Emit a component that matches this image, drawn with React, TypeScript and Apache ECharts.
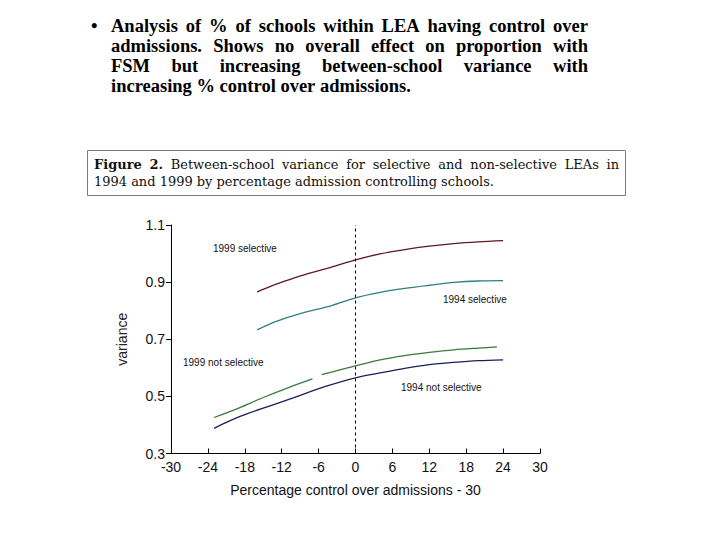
import React, { useEffect, useRef } from "react";
import * as echarts from "echarts";

// ---- data ----
const sel1999X = [-16, -13, -11, -8, -4, 0, 4, 8, 12, 16, 20, 24];
const sel1999Y = [0.866, 0.892, 0.907, 0.928, 0.952, 0.978, 0.999, 1.014, 1.026, 1.035, 1.041, 1.045];

const sel1994X = [-16, -13, -9, -4, 0, 4, 8, 12, 16, 20, 24];
const sel1994Y = [0.733, 0.762, 0.79, 0.817, 0.845, 0.864, 0.878, 0.889, 0.899, 0.904, 0.905];

const non1999X = [-23, -19, -15, -11, -7, -6.2, -5.5, -3, 0, 4, 8, 12, 16, 20, 23];
const non1999Y: (number | string)[] = [0.426, 0.459, 0.496, 0.53, 0.561, "-", 0.576, 0.59, 0.607, 0.628, 0.643, 0.654, 0.663, 0.669, 0.673];

const non1994X = [-23, -21, -18, -14, -10, -5, 0, 4, 8, 12, 16, 20, 24];
const non1994Y = [0.388, 0.409, 0.436, 0.466, 0.496, 0.534, 0.565, 0.582, 0.598, 0.611, 0.619, 0.625, 0.628];

const seriesNames = ["1999 selective", "1994 selective", "1999 not selective", "1994 not selective"];
const seriesColors = ["#5e1a1e", "#2e7f80", "#3a7a3c", "#1e1e5a"];

const yTicks = [0.3, 0.5, 0.7, 0.9, 1.1];
const xTicks = [-30, -24, -18, -12, -6, 0, 6, 12, 18, 24, 30];

const bulletLines = [
  "Analysis of % of schools within LEA having control over",
  "admissions. Shows no overall effect on proportion with",
  "FSM but increasing between-school variance with",
  "increasing % control over admissions.",
];
const captionBold = "Figure 2.";
const captionLine1 = "Between-school variance for selective and non-selective LEAs in";
const captionLine2 = "1994 and 1999 by percentage admission controlling schools.";

const xTitle = "Percentage control over admissions - 30";
const yTitle = "variance";

function zip(xs: number[], ys: (number | string)[]) {
  return xs.map((x, i) => [x, ys[i]]);
}

let ctx: CanvasRenderingContext2D | null = null;
function measure(text: string, font: string): number {
  if (!ctx) ctx = document.createElement("canvas").getContext("2d");
  ctx!.font = font;
  return ctx!.measureText(text).width;
}

type Word = { t: string; weight: string };

function lineElements(words: Word[], size: number, family: string, x0: number, x1: number | null, baseline: number, fill: string) {
  const fonts = words.map((w) => `${w.weight} ${size}px ${family}`);
  const widths = words.map((w, i) => measure(w.t, fonts[i]));
  const space = measure(" ", `normal ${size}px ${family}`);
  let gap = space;
  if (x1 !== null && words.length > 1) {
    const total = widths.reduce((a, b) => a + b, 0);
    gap = (x1 - x0 - total) / (words.length - 1);
  }
  const els: any[] = [];
  let x = x0;
  words.forEach((w, i) => {
    els.push({
      type: "text",
      x,
      y: baseline - size * 0.34,
      silent: true,
      style: {
        text: w.t,
        font: fonts[i],
        fill,
        align: "left",
        verticalAlign: "middle",
      },
    });
    x += widths[i] + gap;
  });
  return els;
}

export default function App() {
  const ref = useRef<HTMLDivElement>(null);
  useEffect(() => {
    if (!ref.current) return;
    const chart = echarts.init(ref.current, undefined, { renderer: "svg" });

    const serif = "'Liberation Serif'";
    const capFamily = "'DejaVu Serif'";
    const bSize = 18.5;
    const b0 = 32.5;
    const graphics: any[] = [];

    // bullet
    graphics.push({
      type: "text",
      x: 91,
      y: b0 - bSize * 0.34,
      silent: true,
      style: { text: "•", font: `bold ${bSize}px ${serif}`, fill: "#000", verticalAlign: "middle" },
    });
    bulletLines.forEach((ln, i) => {
      const words = ln.split(" ").map((t) => ({ t, weight: "bold" }));
      const justify = i < bulletLines.length - 1 ? 588 : null;
      graphics.push(...lineElements(words, bSize, serif, 111, justify, b0 + i * 20, "#000"));
    });

    // caption box
    graphics.push({
      type: "rect",
      silent: true,
      shape: { x: 87.5, y: 150.5, width: 538, height: 45 },
      style: { fill: "none", stroke: "#7a7a7a", lineWidth: 1 },
    });
    // fit caption font size so line 2 spans ~400px
    const w2 = measure(captionLine2, `normal 13px ${capFamily}`);
    const cSize = (13 * 400) / w2;
    const cap1: Word[] = [
      ...captionBold.split(" ").map((t) => ({ t, weight: "bold" })),
      ...captionLine1.split(" ").map((t) => ({ t, weight: "normal" })),
    ];
    graphics.push(...lineElements(cap1, cSize, capFamily, 94, 619, 168.5, "#111"));
    const cap2: Word[] = captionLine2.split(" ").map((t) => ({ t, weight: "normal" }));
    graphics.push(...lineElements(cap2, cSize, capFamily, 94, null, 186, "#111"));

    // curve labels
    const labelPos = [
      [213, 248],
      [443, 299],
      [183, 362],
      [401, 387],
    ];
    seriesNames.forEach((n, i) => {
      graphics.push({
        type: "text",
        x: labelPos[i][0],
        y: labelPos[i][1],
        silent: true,
        style: {
          text: n,
          fontSize: 10,
          fontFamily: "'Liberation Sans'",
          fill: "#111",
          align: "left",
          verticalAlign: "middle",
        },
      });
    });

    const datasets = [zip(sel1999X, sel1999Y), zip(sel1994X, sel1994Y), zip(non1999X, non1999Y), zip(non1994X, non1994Y)];

    const option: any = {
      animation: false,
      backgroundColor: "#fff",
      grid: { left: 171, top: 225, width: 369, height: 228.5, containLabel: false },
      xAxis: {
        type: "value",
        min: -30,
        max: 30,
        interval: 6,
        name: xTitle,
        nameLocation: "middle",
        nameGap: 29,
        nameTextStyle: { fontSize: 14, fontFamily: "'Liberation Sans'", color: "#111", verticalAlign: "top" },
        axisLine: { onZero: false, lineStyle: { color: "#000", width: 1 } },
        axisTick: { inside: true, length: 5, lineStyle: { color: "#000" } },
        axisLabel: {
          margin: 6,
          fontSize: 14,
          fontFamily: "'Liberation Sans'",
          color: "#111",
          formatter: (v: number) => (xTicks.includes(v) ? String(v) : ""),
        },
        splitLine: { show: false },
      },
      yAxis: {
        type: "value",
        min: yTicks[0],
        max: yTicks[yTicks.length - 1],
        interval: 0.2,
        name: yTitle,
        nameLocation: "middle",
        nameRotate: 90,
        nameGap: 42,
        nameTextStyle: { fontSize: 14, fontFamily: "'Liberation Sans'", color: "#222" },
        axisLine: { onZero: false, lineStyle: { color: "#000", width: 1 } },
        axisTick: { inside: false, length: 5, lineStyle: { color: "#000" } },
        axisLabel: {
          margin: 6,
          fontSize: 14,
          fontFamily: "'Liberation Sans'",
          color: "#111",
          formatter: (v: number) => v.toFixed(1),
        },
        splitLine: { show: false },
      },
      series: seriesNames.map((n, i) => ({
        name: n,
        type: "line",
        data: datasets[i],
        smooth: 0.3,
        showSymbol: false,
        connectNulls: false,
        lineStyle: { color: seriesColors[i], width: 1.3 },
        itemStyle: { color: seriesColors[i] },
        ...(i === 0
          ? {
              markLine: {
                silent: true,
                symbol: "none",
                label: { show: false },
                lineStyle: { type: [3, 3], color: "#000", width: 1 },
                data: [{ xAxis: 0 }],
              },
            }
          : {}),
      })),
      graphic: graphics,
    };
    chart.setOption(option);
    return () => chart.dispose();
  }, []);
  return (
    <div
      ref={ref}
      style={{ position: "fixed", left: 0, top: 0, width: 720, height: 540, background: "#fff" }}
    />
  );
}
